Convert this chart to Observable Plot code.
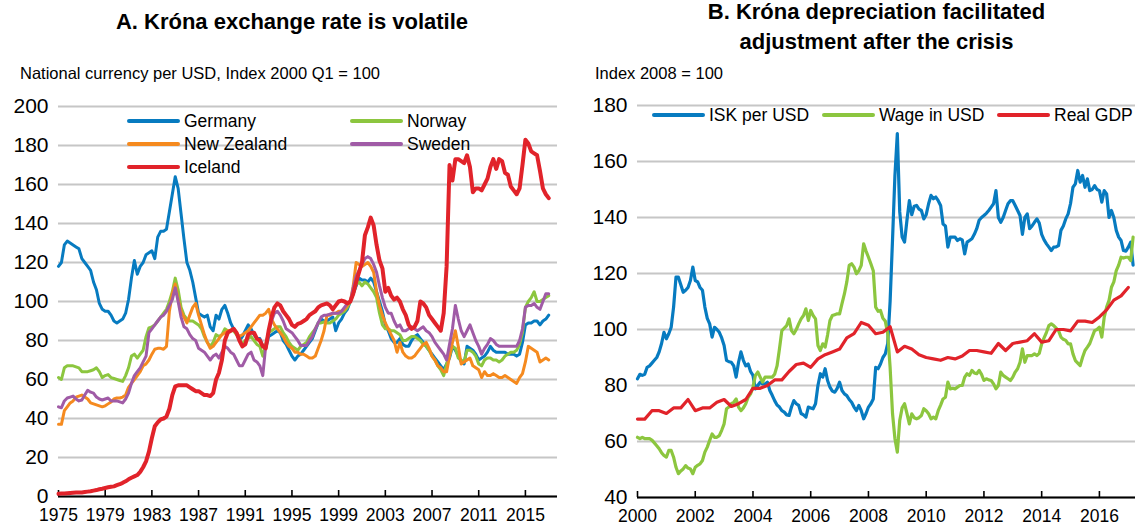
<!DOCTYPE html>
<html><head><meta charset="utf-8">
<script src="https://cdn.jsdelivr.net/npm/d3@7"></script>
<script src="https://cdn.jsdelivr.net/npm/@observablehq/plot@0.6"></script>
<style>
body{margin:0;background:#fff;font-family:"Liberation Sans",Arial,sans-serif;color:#000;}
#wrap{position:relative;width:1135px;height:526px;overflow:hidden;}
.title{position:absolute;font-weight:bold;font-size:22px;text-align:center;line-height:30px;white-space:nowrap;}
.sub{position:absolute;font-size:16.5px;white-space:nowrap;}
.plot{position:absolute;top:90px;}
.li{position:absolute;height:24px;display:flex;align-items:center;white-space:nowrap;font-size:17.5px;}
.sw{display:inline-block;width:53px;height:4px;margin-right:4px;border-radius:2px;}
</style></head><body>
<div id="wrap">
  <div class="title" style="left:0;width:584px;top:7px;">A. Króna exchange rate is volatile</div>
  <div class="title" style="left:594px;width:565px;top:-3px;">B. Króna depreciation facilitated<br>adjustment after the crisis</div>
  <div class="sub" style="left:20px;top:64px;">National currency per USD, Index 2000 Q1 = 100</div>
  <div class="sub" style="left:595px;top:64px;">Index 2008 = 100</div>
  <div id="pa" class="plot" style="left:0;"></div>
  <div id="pb" class="plot" style="left:570px;"></div>
  <div id="legA"></div>
  <div id="legB"></div>
</div>
<script>
// ---------- Panel A: quarterly, 1975Q1 .. 2017Q1 ----------
const seriesA = ["Germany", "Norway", "New Zealand", "Sweden", "Iceland"];
const colorsA = ["#077bc0", "#8cc63f", "#f58a1f", "#a05ba6", "#e1232a"];
const yTicksA = [0, 20, 40, 60, 80, 100, 120, 140, 160, 180, 200];
const xTicksA = [1975, 1979, 1983, 1987, 1991, 1995, 1999, 2003, 2007, 2011, 2015];

const germany = [
118,120,129,131, 130,129,128,127, 122,120,118,116, 110,106,99,96, 95,95,93,90,
89,90,91,94, 101,112,121,114, 118,120,124,125, 126,122,133,136, 136,137,146,155,
164,158,145,132, 120,116,110,102, 94,93,92,93, 87,85,93,91, 96,98,94,89,
86,84,80,82, 85,88,86,83, 81,81,77,76, 82,83,84,85, 84,80,78,75,
72,70,72,73, 75,77,79,81, 85,89,91,90, 90,91,92,85, 89,91,94,96,
100,104,108,112, 111,111,110,112, 110,105,100,95, 88,85,81,79, 79,81,78,77,
77,80,82,83, 81,79,77,75, 73,71,69,67, 65,68,71,77, 75,72,69,68,
77,76,75,73, 70,71,72,74, 77,75,74,74, 74,74,73,73, 73,72,73,79,
88,89,89,90, 90,88,90,91, 93];
const norway = [
61,60,66,67, 67,67,66.5,66, 64,64,64,64.5, 65,66,64,61, 62,62.5,61,60.5,
60,59.5,59,62, 66,72,73,71, 73,75,82,86.5, 87,88,90,92, 94,96,100,105,
112,106,97,93, 91,90,90,89, 88,86,82,79, 77,79,83,82, 83,86,85,85,
85,83,81,78, 80,81,82,80, 78,77,72,78, 84,85,86,87, 87,84,82,79,
77,76,75,77, 78,79,82,84, 86,89,89,89.5, 89,89,90,91, 93,94,95,97,
100,104,109,110, 108,110,109,107, 105,102,94,88, 86,86,85,85, 84,83,80,80,
81,82,82,81, 80,78,77,75, 72,70,67,65, 62,68,72,77, 76,71,70,69,
75,75,74,72, 68,67,70,71, 71,70,70,69, 70,72,73,74, 74,75,78,84,
97,100,102,105, 100,100,101,102, 103];
const newZealand = [
37,37,44,46, 48,49,51,51.5, 52,51,50,48, 47.5,47,46.5,46, 46.5,47.5,48.5,50,
50.5,50.5,51,52, 56,58,60,62, 64,67,68,70, 73,75.5,76,76, 75.5,77,95,104,
109,101,95,92, 89,93,97,99, 93,88,83,79, 76,77,79,81, 83,84,85,85,
86,84,82,83, 84,85,87,89, 91,93,93,94, 96,91,88,86, 84,82,79,77,
76,74,74,73, 73,72,71,71, 72,76,80,85, 93,93,94,94, 95,95,96,98,
100,108,120,119, 118,119,120,118, 115,105,98,93, 89,86,83,80, 74,79,74,72,
71,71,72,74, 76,78,79,76, 72,70,67,66, 64,64,72,79, 85,77,68,69,
70,71,67,66, 65,61,64,62, 62,63,62,61, 61,62,61,60, 59,58,61,63,
69,77,76,75, 74,69,70,71, 70];
const sweden = [
46,45.5,49,50.5, 51,51.5,50,49, 49.5,52,54.5,53.5, 53,51,50,49.5, 50,50.5,49,49,
49,48.5,48,50, 53,58,62,64, 66,69,72,84, 86,88,90,92, 93,95,98,101,
107,100,92,87, 86,83,81,80, 76,75,74,72, 70,72,73,71, 74,77,76,74,
73,70,67,67, 70,73,74,70, 69,67,62,77, 84,90,94,95, 93,90,86,85,
84,82,80,77.5, 77.5,77.5,80,82, 86,89,92,93, 93,93.5,94,94, 94,95,97,99,
100,107,113,116, 119,122,123,122, 119,115,108,102, 97,94,94,90, 87,88,85,85,
86,87,86,85, 86,87,85,84, 82,79,77,75, 73,70,78,86, 98,91,85,82,
85,88,84,80, 77,73,76,78, 81,80,78,77, 77,77,77,77, 77,77,80,86,
97,98,98,99, 97,96,100,104, 104];
const iceland = [
1.4,1.5,1.6,1.7, 1.8,1.9,2,2, 2.1,2.3,2.5,2.7, 3,3.3,3.7,4, 4.4,4.7,5,5.2,
5.8,6.3,7,7.8, 8.8,9.6,10.3,11, 12.6,15,18,23, 30,36,38,39.5, 40,41,45,52,
56.5,57,57,57, 57,56,55,54, 54,53,52,52, 51.5,53,60,63.5, 70,80,84,85,
86,84,80,77, 78,83,84,84, 81,80,77,76, 85,92,97,99, 98,95,93,91,
88,87,88.5,89, 90,91,93,94, 95,97,98,98.5, 99,98,96,98, 100,100.5,100,99,
100,104,110,115, 120,134,138,143, 139,129,121,117, 105,107,103,101, 102,100,96,93,
88,86,87,90, 100,99,97,93, 91,89,87,85, 94,118,170,162, 173,173,172,171,
175,169,156,158, 158,157,160,163, 169,173,168,173, 172,166,165,159, 157,155,158,170,
183,181,177,176, 175,167,158,155, 153];

// ---------- Panel B: monthly Jan 2000 .. Mar 2017, GDP quarterly ----------
const seriesB = ["ISK per USD", "Wage in USD", "Real GDP"];
const colorsB = ["#077bc0", "#8cc63f", "#e1232a"];
const yTicksB = [40, 60, 80, 100, 120, 140, 160, 180];
const xTicksB = [2000, 2002, 2004, 2006, 2008, 2010, 2012, 2014, 2016];

const iskPerUsd = [
82.4,84,83.6,84,86.5,87,88,89,90,92,95,99,
96.7,98.5,100.8,108,118.7,118.7,116,113.3,114,115,117.5,122.3,
117.5,117,115,114,108,104,102,97.3,100.8,100,99,97,
94.3,89,88.5,88.3,87,83,88.3,92,89,87,87.7,85,
83.6,78.8,80,81.2,80.6,80.5,81.2,78.2,76.5,74.6,73,72.3,
71,70.5,69.5,69.3,72.3,74.6,73.5,72.9,70,69.5,68.7,72.3,
72,71.7,73.5,80,84.2,83,86,81.8,79.4,78,77.6,79,
81.2,78.2,77,76.4,75,74,72.3,71,72.9,71,68.1,70,
72.3,73.5,75.2,86.5,86,87.7,90,91.3,95,110,132,155,
170,142,133,131.2,139,146,141,144,144.3,143,142.5,139.5,
141,144.9,147.9,146.7,147.3,146,144.3,137.7,137,129.4,133,133,
133,131.8,132.4,132,127,131.2,131.8,132.4,134,136,139,140,
140.7,141.5,142.5,143.7,144.9,149.6,140,138.3,140,142.5,144.9,146,
146,144.3,142.5,140.7,134,140,141.3,136,137,138.3,139.5,138,
134,132,130.6,129.4,128.2,129.4,129.5,130,135.4,137,139.5,141.3,
145,150.8,152,156.8,152.6,155,150.8,153.8,149.6,150,151.4,150,
149.6,145.5,149.6,148.4,140,142.5,140,135.4,133,131.8,128.2,128,
129.4,131.2,123];
const wageInUsd = [
61.5,61,61.5,61,61,61,60.5,59.5,58.5,57.4,56,55,
54.4,56.8,56.8,54.4,50.8,48.5,49.5,50.2,51.4,50.5,50.2,48.5,
50.8,51.5,52,53.2,56.2,58,60.4,62.7,61.5,61.5,62.1,64,
66.3,71.7,72.3,73.5,74,75.2,72.3,71,72,73.5,75.8,77,
79.4,83.6,84.8,83,81.2,83,83,83,83,84,87,93,
99.6,100.5,101.4,103.8,99.6,98.5,100,102,103.8,105,107.4,103.2,
106.8,105,103.8,94.3,92.5,94.9,93.7,98,103.2,105,105.3,105.6,
105.6,109.2,112.7,117,122.9,123.5,122.3,119.9,121,122.9,130.6,128,
125.8,123.5,121,108,106.5,106.8,104,103,98.5,86.5,70,61,
56.2,67.5,72,73.5,70,66.3,69.9,68.5,68.1,68.5,69.3,71.7,
71,69.9,68.1,68.7,68.1,71,73,75.2,75.8,81.2,78.8,79,
78.8,79.4,80,80,83,84.2,83.6,85.4,84.5,84.2,85.4,84,
81.8,82.4,82,81.8,80.6,78.8,80,84.8,83.6,83,82.4,81.8,
83,84.8,86,88.3,93.1,88.3,90.7,90.7,90.7,91.3,90.7,91.5,
94.9,97,99,101.4,102,101.4,100.5,99.6,97.3,96.5,96.1,94.9,
94.9,91.3,88.9,88,87.1,90.1,92.5,93.7,95,97.3,99.6,100,
100.8,97.3,104.4,108,110.4,115.1,117,121,123,125.8,125.5,125.8,
125.8,124.6,133];
const realGdp = [
68,68,71,71, 70,72,72,75, 71,72,72,74, 75,72.5,73.5,75, 79,79,80,82,
82,85,87.5,88, 86.5,89.5,91,92, 93,97,98.5,102.5, 101.5,98.5,99,101, 92,94,93,91,
90,89.5,89,90, 89.5,90.5,92.5,92.5, 92,91.5,95,92.5, 95,95.5,96,98.5, 95.5,96,100,100,
99.5,103,103,102.5, 104.5,107,110.5,112, 115];

const quartersA = d3.range(germany.length).map(i => 1975 + i / 4);
const monthsB = d3.range(iskPerUsd.length).map(i => 2000 + i / 12);
const quartersB = d3.range(realGdp.length).map(i => 2000 + i / 4);

const valuesA = [germany, norway, newZealand, sweden, iceland];
const widthsA = [3, 3, 3, 3, 4];
const valuesB = [iskPerUsd, wageInUsd, realGdp];
const xsB = [monthsB, monthsB, quartersB];

const font = "'Liberation Sans', Arial, sans-serif";
const grid = {stroke: "#c6c6c6", strokeOpacity: 1, strokeWidth: 2};

function axes(yTicks, xTicks, base) {
  return [
    Plot.gridY(yTicks, grid),
    Plot.axisY(yTicks, {tickSize: 0, tickPadding: 10, fontSize: 21, label: null, fill: "#000"}),
    Plot.axisX(xTicks, {tickSize: 0, tickPadding: 12, fontSize: 17.5, label: null, fill: "#000", tickFormat: d => String(d)}),
    Plot.axisX(xTicks, {tickSize: 6, dy: -6, tickFormat: () => "", label: null, stroke: "#000", strokeWidth: 1.6}),
    Plot.ruleY([base], {stroke: "#000", strokeWidth: 2})
  ];
}

const plotA = Plot.plot({
  width: 570, height: 436,
  marginLeft: 58, marginRight: 13, marginTop: 16, marginBottom: 30,
  x: {domain: [1975, 2017.75]},
  y: {domain: [0, 200]},
  style: {fontFamily: font, color: "#000", background: "transparent", overflow: "visible"},
  marks: [
    ...axes(yTicksA, xTicksA, 0),
    ...valuesA.map((vals, k) => Plot.line(vals, {
      x: (d, i) => quartersA[i], y: d => d,
      stroke: colorsA[k], strokeWidth: widthsA[k], strokeLinejoin: "round", strokeLinecap: "round"
    }))
  ]
});
document.getElementById("pa").appendChild(plotA);

const plotB = Plot.plot({
  width: 565, height: 436,
  marginLeft: 67, marginRight: 0, marginTop: 15, marginBottom: 29,
  x: {domain: [2000, 2017.25]},
  y: {domain: [40, 180]},
  style: {fontFamily: font, color: "#000", background: "transparent", overflow: "visible"},
  marks: [
    ...axes(yTicksB, xTicksB, 40),
    ...valuesB.map((vals, k) => Plot.line(vals, {
      x: (d, i) => xsB[k][i], y: d => d,
      stroke: colorsB[k], strokeWidth: 3.2, strokeLinejoin: "round", strokeLinecap: "round"
    }))
  ]
});
document.getElementById("pb").appendChild(plotB);

// ---------- legends (HTML overlays) ----------
function legendItem(parent, name, color, left, cy) {
  const d = document.createElement("div");
  d.className = "li";
  d.style.left = left + "px";
  d.style.top = (cy - 12) + "px";
  d.innerHTML = `<span class="sw" style="background:${color}"></span><span>${name}</span>`;
  parent.appendChild(d);
}
const legA = document.getElementById("legA");
const legAPos = {"Germany": [127, 121], "New Zealand": [127, 144], "Iceland": [127, 167], "Norway": [350, 121], "Sweden": [350, 144]};
seriesA.forEach((s, k) => legendItem(legA, s, colorsA[k], legAPos[s][0], legAPos[s][1]));
const legB = document.getElementById("legB");
const legBPos = [652, 822, 997];
seriesB.forEach((s, k) => legendItem(legB, s, colorsB[k], legBPos[k], 115));
</script>
</body></html>
